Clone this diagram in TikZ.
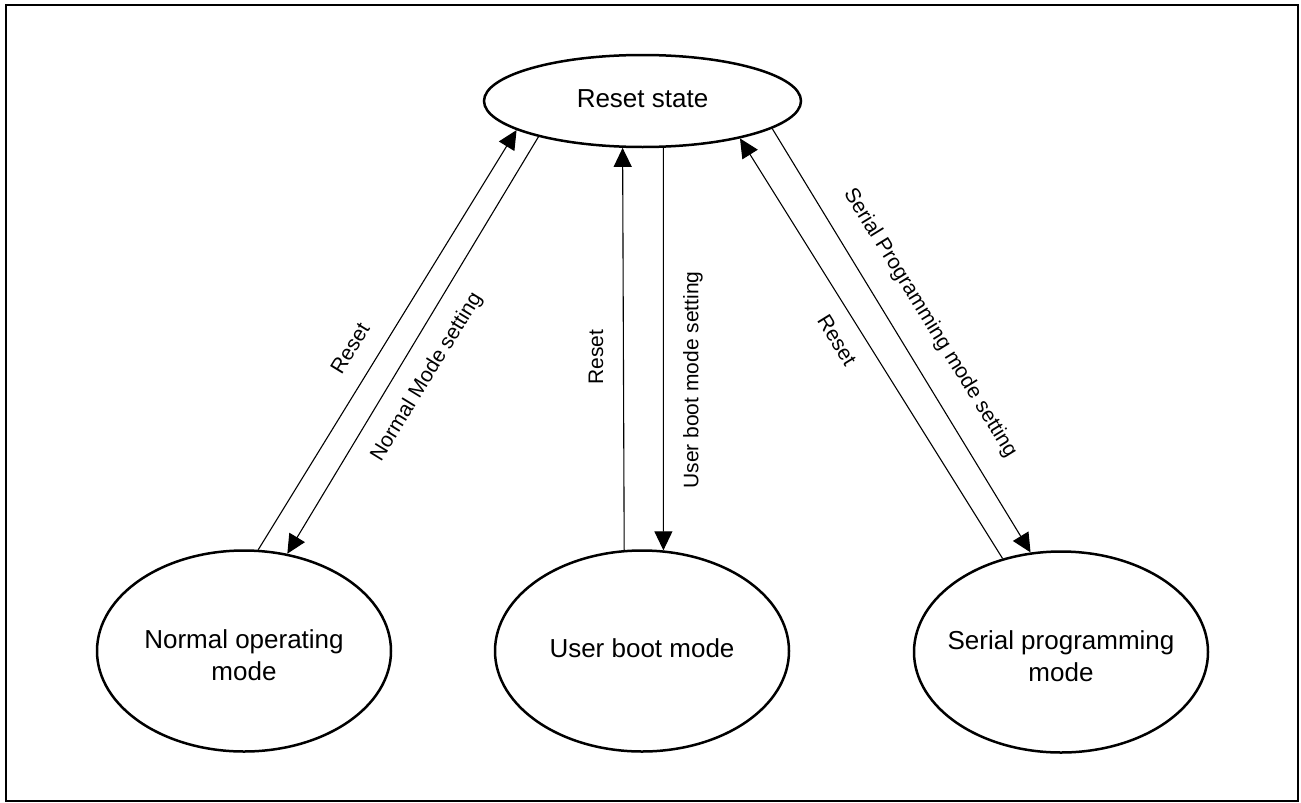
\documentclass[tikz,border=0pt]{standalone}
\usepackage{fontspec}
\setmainfont{Liberation Sans}
\usetikzlibrary{arrows.meta,shapes.geometric}
\newcommand{\ctext}[1]{\makebox[0pt]{\begin{tabular}{@{}c@{}}#1\end{tabular}}}
\begin{document}
\begin{tikzpicture}[x=1pt,y=-1pt,
  state/.style={draw, ellipse, line width=2.5pt, inner sep=0pt,
    minimum width=294pt, minimum height=201pt, font=\fontsize{26}{32}\selectfont},
  conn/.style={line width=1.1pt, -{Triangle[length=19pt,width=18pt]}},
  lbl/.style={inner sep=0pt, font=\fontsize{21}{25}\selectfont}]
\useasboundingbox (0,0) rectangle (1301,803);
\draw[line width=2.5pt] (6,5) rectangle (1298,801);

\node[state, minimum width=317pt, minimum height=92pt] (rs) at (642.5,101) {\ctext{Reset state}};
\node[state] (nm) at (244,651) {\ctext{\rule{0pt}{35.6pt}Normal operating\\mode}};
\node[state] (ub) at (642,651) {\ctext{User boot mode}};
\node[state] (sp) at (1061,652) {\ctext{\rule{0pt}{35.6pt}Serial programming\\mode}};

\draw[conn] (nm.82.7) -- (rs.193);
\draw[conn] (rs.199) -- (nm.66.9);
\draw[conn] (ub.100.6) -- (rs.247.5);
\draw[conn] (rs.294) -- (ub.78.5);
\draw[conn] (sp.122.4) -- (rs.339.6);
\draw[conn] (rs.348) -- (sp.107.7);

\node[lbl, rotate=58.5] (l1) at (350,348) {Reset};
\node[lbl, rotate=58.5] (l2) at (427,377) {Normal Mode setting};
\node[lbl, rotate=90] (l3) at (596,357) {Reset};
\node[lbl, rotate=90] (l4) at (693,380) {User boot mode setting};
\node[lbl, rotate=-58.3] (l5) at (837,340) {Reset};
\node[lbl, rotate=-58.3] (l6) at (930,323) {Serial Programming mode setting};
\end{tikzpicture}
\end{document}
